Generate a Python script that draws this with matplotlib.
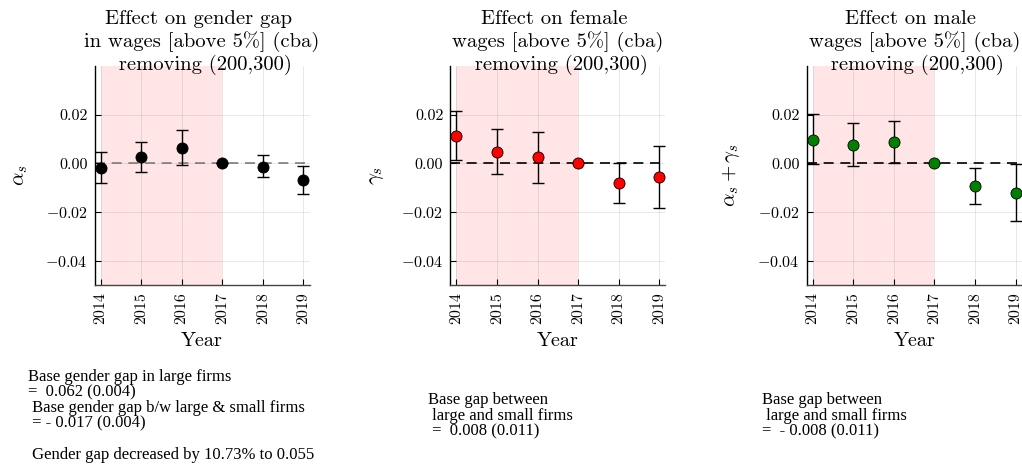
import matplotlib.pyplot as plt
import numpy as np

plt.rcParams['font.family'] = 'serif'
plt.rcParams['font.serif'] = ['cmr10']
plt.rcParams['mathtext.fontset'] = 'cm'
plt.rcParams['axes.formatter.use_mathtext'] = True

years = [2014, 2015, 2016, 2017, 2018, 2019]

# coeficientes y bandas (limite inferior, superior)
alpha = [-0.0018, 0.0027, 0.0065, 0.0, -0.0014, -0.0069]
alpha_lo = [-0.0079, -0.0036, -0.0008, 0.0, -0.0058, -0.0124]
alpha_hi = [0.0046, 0.0089, 0.0137, 0.0, 0.0033, -0.0012]

gamma = [0.0113, 0.0048, 0.0025, 0.0, -0.0080, -0.0055]
gamma_lo = [0.0014, -0.0044, -0.0082, 0.0, -0.0163, -0.0182]
gamma_hi = [0.0214, 0.0143, 0.0127, 0.0, 0.0003, 0.0073]

suma = [0.0097, 0.0077, 0.0087, 0.0, -0.0093, -0.0122]
suma_lo = [-0.0003, -0.0011, 0.0001, 0.0, -0.0167, -0.0236]
suma_hi = [0.0201, 0.0166, 0.0172, 0.0, -0.0018, -0.0004]

titulos = [
    "Effect on gender gap \nin wages [above 5%] (cba)\n removing (200,300)",
    "Effect on female \nwages [above 5%] (cba)\n removing (200,300)",
    "Effect on male \nwages [above 5%] (cba)\n removing (200,300)",
]
ylabels = [r"$\alpha_s$", r"$\gamma_s$", r"$\alpha_s + \gamma_s$"]
colores = ["black", "red", "green"]
color_cero = ["gray", "black", "black"]

notas = [
    "Base gender gap in large firms\n=  0.062 (0.004)\n Base gender gap b/w large & small firms\n = - 0.017 (0.004)\n\n Gender gap decreased by 10.73% to 0.055",
    "Base gap between\n large and small firms\n =  0.008 (0.011)",
    "Base gap between\n large and small firms\n=  - 0.008 (0.011)",
]
nota_x = [28, 428, 762]

series = [(alpha, alpha_lo, alpha_hi), (gamma, gamma_lo, gamma_hi), (suma, suma_lo, suma_hi)]
lefts = [94.5, 450.3, 806.7]

W, H = 1022, 467
fig = plt.figure(figsize=(W / 100, H / 100), dpi=100)

for i in range(3):
    ax = fig.add_axes([lefts[i] / W, 1 - 285 / H, 215 / W, 219 / H])
    y, lo, hi = [np.array(s) for s in series[i]]
    ax.axvspan(2014, 2017, color="red", alpha=0.1, lw=0, zorder=0)
    ax.axhline(0, color=color_cero[i], ls=(0, (6, 4)), lw=1.2, zorder=1)
    ax.errorbar(years, y, yerr=[y - lo, hi - y], fmt="none", ecolor="black",
                elinewidth=1, capsize=4, capthick=1, zorder=2)
    ax.plot(years, y, "o", color=colores[i], mec="black", mew=0.6, ms=8, zorder=3)

    ax.set_xlim(2014 - 0.148, 2019 + 0.148)
    ax.set_ylim(-0.05, 0.04)
    ax.set_xticks(years)
    ax.set_xticklabels([str(a) for a in years], rotation=90)
    ax.set_yticks([-0.04, -0.02, 0.0, 0.02])
    ax.set_yticklabels(["$-0.04$", "$-0.02$", "0.00", "0.02"])
    ax.tick_params(direction="in", length=4, width=0.8, labelsize=11.5, pad=5)
    ax.grid(True, color="black", alpha=0.1, lw=0.6)
    ax.spines["top"].set_visible(False)
    ax.spines["right"].set_visible(False)
    ax.spines["left"].set_linewidth(1)
    ax.spines["bottom"].set_linewidth(1)
    ax.spines["bottom"].set_color("#444444")

    ax.set_title(titulos[i], fontsize=14.8, y=1.0, pad=-3, linespacing=1.2)
    ax.set_xlabel("Year", fontsize=14.5, labelpad=6)
    ax.set_ylabel(ylabels[i], fontsize=15, labelpad=11)

    fig.text(nota_x[i] / W, 1 - 416 / H, notas[i], family="Liberation Serif",
             fontsize=12, ha="left", va="center", linespacing=0.98)

fig.savefig("out.png", dpi=100)
